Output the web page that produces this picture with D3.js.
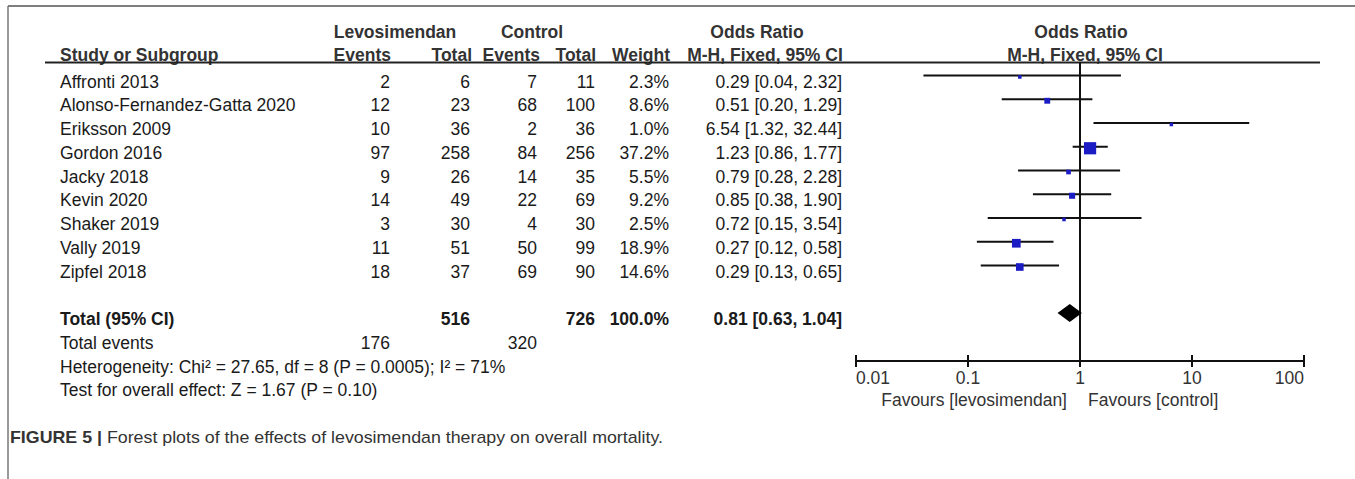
<!DOCTYPE html>
<html>
<head>
<meta charset="utf-8">
<script src="https://cdn.jsdelivr.net/npm/d3@7"></script>
<style>
  body { margin: 0; background: #fff; }
  svg { display: block; font-family: Arial, "Liberation Sans", sans-serif; }
</style>
</head>
<body>
<div id="canvas"></div>
<script>
// study data
var studies = ["Affronti 2013", "Alonso-Fernandez-Gatta 2020", "Eriksson 2009", "Gordon 2016",
  "Jacky 2018", "Kevin 2020", "Shaker 2019", "Vally 2019", "Zipfel 2018"];
var levoEvents = [2, 12, 10, 97, 9, 14, 3, 11, 18];
var levoTotal = [6, 23, 36, 258, 26, 49, 30, 51, 37];
var ctrlEvents = [7, 68, 2, 84, 14, 22, 4, 50, 69];
var ctrlTotal = [11, 100, 36, 256, 35, 69, 30, 99, 90];
var weights = [2.3, 8.6, 1.0, 37.2, 5.5, 9.2, 2.5, 18.9, 14.6];
var oddsRatio = [0.29, 0.51, 6.54, 1.23, 0.79, 0.85, 0.72, 0.27, 0.29];
var ciLow = [0.04, 0.20, 1.32, 0.86, 0.28, 0.38, 0.15, 0.12, 0.13];
var ciHigh = [2.32, 1.29, 32.44, 1.77, 2.28, 1.90, 3.54, 0.58, 0.65];

// pooled result
var total = { levoTotal: 516, ctrlTotal: 726, weight: 100.0, or: 0.81, low: 0.63, high: 1.04,
  levoEvents: 176, ctrlEvents: 320 };
var heterogeneity = "Heterogeneity: Chi\u00b2 = 27.65, df = 8 (P = 0.0005); I\u00b2 = 71%";
var overall = "Test for overall effect: Z = 1.67 (P = 0.10)";

var tickValues = [0.01, 0.1, 1, 10, 100];
var tickLabels = ["0.01", "0.1", "1", "10", "100"];
var favours = ["Favours [levosimendan]", "Favours [control]"];

var width = 1355, height = 479;
var fs = 17.5;

var svg = d3.select("div#canvas").append("svg")
  .attr("width", width)
  .attr("height", height);

// frame
svg.append("line").attr("x1", 8).attr("x2", width).attr("y1", 6).attr("y2", 6)
  .attr("stroke", "#555").attr("stroke-width", 1.5);
svg.append("line").attr("x1", 8).attr("x2", 8).attr("y1", 6).attr("y2", height)
  .attr("stroke", "#777").attr("stroke-width", 1.5);

var rowY = function(i) { return 87.5 + i * 23.75; };
var x = d3.scaleLog().domain([0.01, 100]).range([856, 1304]);

var txt = "#1a1a1a", head = "#333";

function label(s, xp, yp, anchor, bold, color) {
  return svg.append("text")
    .attr("x", xp).attr("y", yp)
    .attr("text-anchor", anchor || "start")
    .attr("font-size", fs)
    .attr("font-weight", bold ? "bold" : "normal")
    .attr("fill", color || txt)
    .text(s);
}

// headers
label("Levosimendan", 395, 38, "middle", true, head);
label("Control", 532, 38, "middle", true, head);
label("Odds Ratio", 757, 38, "middle", true, head);
label("Odds Ratio", 1081, 38, "middle", true, head);

label("Study or Subgroup", 60, 61, "start", true, head);
label("Events", 391, 61, "end", true, head);
label("Total", 472, 61, "end", true, head);
label("Events", 540, 61, "end", true, head);
label("Total", 596, 61, "end", true, head);
label("Weight", 670, 61, "end", true, head);
label("M-H, Fixed, 95% CI", 765, 61, "middle", true, head);
label("M-H, Fixed, 95% CI", 1085, 61, "middle", true, head);

svg.append("line").attr("x1", 45).attr("x2", 1320).attr("y1", 62.5).attr("y2", 62.5)
  .attr("stroke", "#222").attr("stroke-width", 2);

// columns
var cols = [
  { x: 390, vals: levoEvents },
  { x: 470, vals: levoTotal },
  { x: 537, vals: ctrlEvents },
  { x: 595, vals: ctrlTotal },
  { x: 669, vals: weights.map(function(w) { return w.toFixed(1) + "%"; }) },
  { x: 842, vals: oddsRatio.map(function(o, i) {
      return o.toFixed(2) + " [" + ciLow[i].toFixed(2) + ", " + ciHigh[i].toFixed(2) + "]"; }) }
];

studies.forEach(function(s, i) { label(s, 60, rowY(i)); });
cols.forEach(function(c) {
  c.vals.forEach(function(v, i) { label(v, c.x, rowY(i), "end"); });
});

// total rows
label("Total (95% CI)", 60, rowY(10), "start", true);
label(total.levoTotal, 470, rowY(10), "end", true);
label(total.ctrlTotal, 595, rowY(10), "end", true);
label(total.weight.toFixed(1) + "%", 669, rowY(10), "end", true);
label(total.or.toFixed(2) + " [" + total.low.toFixed(2) + ", " + total.high.toFixed(2) + "]", 842, rowY(10), "end", true);
label("Total events", 60, rowY(11));
label(total.levoEvents, 390, rowY(11), "end");
label(total.ctrlEvents, 537, rowY(11), "end");
label(heterogeneity, 60, rowY(12));
label(overall, 60, rowY(13));

// plot
var axisY = 361;
svg.append("line").attr("x1", x(1)).attr("x2", x(1)).attr("y1", 62).attr("y2", axisY)
  .attr("stroke", "#111").attr("stroke-width", 2);

var g = svg.append("g");
g.selectAll("line.ci").data(studies).enter().append("line")
  .attr("class", "ci")
  .attr("x1", function(d, i) { return x(ciLow[i]); })
  .attr("x2", function(d, i) { return x(ciHigh[i]); })
  .attr("y1", function(d, i) { return rowY(i) - 12; })
  .attr("y2", function(d, i) { return rowY(i) - 12; })
  .attr("stroke", "#111").attr("stroke-width", 2);

// square area follows the study weight
var side = function(w) { return Math.max(3.5, 2 * Math.sqrt(w)); };
g.selectAll("rect.sq").data(studies).enter().append("rect")
  .attr("class", "sq")
  .attr("x", function(d, i) { return x(oddsRatio[i]) - side(weights[i]) / 2; })
  .attr("y", function(d, i) { return rowY(i) - 12 - side(weights[i]) / 2 + 1.5; })
  .attr("width", function(d, i) { return side(weights[i]); })
  .attr("height", function(d, i) { return side(weights[i]); })
  .attr("fill", "#1c1cc4");

var dy = rowY(10) - 12;
svg.append("path")
  .attr("d", "M" + x(total.low) + "," + dy + "L" + x(total.or) + "," + (dy - 9) +
    "L" + x(total.high) + "," + dy + "L" + x(total.or) + "," + (dy + 9) + "Z")
  .attr("fill", "#000");

// axis
svg.append("line").attr("x1", x(0.01)).attr("x2", x(100)).attr("y1", axisY).attr("y2", axisY)
  .attr("stroke", "#111").attr("stroke-width", 2);
svg.selectAll("line.tick").data(tickValues).enter().append("line")
  .attr("class", "tick")
  .attr("x1", function(d) { return x(d); }).attr("x2", function(d) { return x(d); })
  .attr("y1", axisY - 6).attr("y2", axisY + 6)
  .attr("stroke", "#111").attr("stroke-width", 2);
tickValues.forEach(function(t, i) {
  var anchor = i === 0 ? "start" : (i === tickValues.length - 1 ? "end" : "middle");
  label(tickLabels[i], x(t), 384, anchor, false, head);
});
label(favours[0], x(1) - 13, 406, "end", false, head);
label(favours[1], x(1) + 8, 406, "start", false, head);

// caption
var cap = svg.append("text").attr("x", 10).attr("y", 443).attr("font-size", 17)
  .attr("fill", "#333").attr("textLength", 653).attr("lengthAdjust", "spacingAndGlyphs");
cap.append("tspan").attr("font-weight", "bold").text("FIGURE 5 |");
cap.append("tspan").text(" Forest plots of the effects of levosimendan therapy on overall mortality.");
</script>
</body>
</html>
